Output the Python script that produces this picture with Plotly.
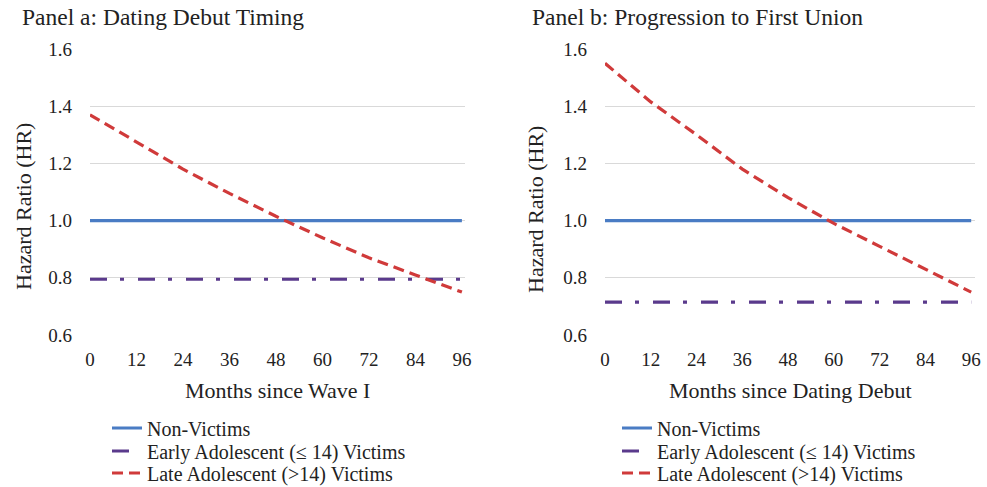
import plotly.graph_objects as go

months = [0, 12, 24, 36, 48, 60, 72, 84, 96]
tick_vals_y = [0.6, 0.8, 1.0, 1.2, 1.4, 1.6]
tick_text_y = ["0.6", "0.8", "1.0", "1.2", "1.4", "1.6"]

# Panel a: Dating Debut Timing
a_non = [1.0, 1.0, 1.0, 1.0, 1.0, 1.0, 1.0, 1.0, 1.0]
a_early = [0.795, 0.795, 0.795, 0.795, 0.795, 0.795, 0.795, 0.795, 0.795]
a_late = [1.37, 1.275, 1.18, 1.095, 1.015, 0.94, 0.87, 0.81, 0.75]

# Panel b: Progression to First Union
b_non = [1.0, 1.0, 1.0, 1.0, 1.0, 1.0, 1.0, 1.0, 1.0]
b_early = [0.715, 0.715, 0.715, 0.715, 0.715, 0.715, 0.715, 0.715, 0.715]
b_late = [1.55, 1.415, 1.30, 1.18, 1.08, 0.99, 0.91, 0.83, 0.75]

names = ["Non-Victims", "Early Adolescent (\u2264 14) Victims", "Late Adolescent (>14) Victims"]
colors = ["#4A7CC4", "#5A3A8C", "#D03A3A"]
dashes = ["solid", "17px,13px,4px,14px", "11px,6px"]

FONT = "Liberation Serif"
TXT = "#222222"
W, H = 987, 487

def px_x(v):
    return v / W

def px_y(v):
    return 1 - v / H

fig = go.Figure()

legend_rows = [428, 451, 473]
panels = [
    dict(series=[a_non, a_early, a_late], xa="x", ya="y", legx=107, legs=["legend", "legend2", "legend3"]),
    dict(series=[b_non, b_early, b_late], xa="x2", ya="y2", legx=617, legs=["legend4", "legend5", "legend6"]),
]
legend_layout = {}
for p in panels:
    for i, (name, vals, col, dsh) in enumerate(zip(names, p["series"], colors, dashes)):
        lg = p["legs"][i]
        fig.add_trace(go.Scatter(
            x=months, y=vals, mode="lines", name=name,
            line=dict(color=col, width=3.2, dash=dsh),
            xaxis=p["xa"], yaxis=p["ya"], legend=lg,
        ))
        legend_layout[lg] = dict(
            x=px_x(p["legx"]), y=px_y(legend_rows[i]), xanchor="left", yanchor="middle",
            font=dict(family=FONT, size=20, color=TXT), bgcolor="rgba(0,0,0,0)",
            itemwidth=30, borderwidth=0,
        )

ydom = [px_y(335), px_y(49)]
common_y = dict(range=[0.6, 1.6], tickvals=tick_vals_y, ticktext=tick_text_y,
                showgrid=True, gridcolor="#D9D9D9", gridwidth=1, zeroline=False, showline=False,
                ticks="", ticklabelstandoff=17, automargin=False,
                tickfont=dict(family=FONT, size=19, color=TXT))
common_x = dict(tickvals=months, showgrid=False, zeroline=False, showline=False, ticks="",
                ticklabelstandoff=11, automargin=False,
                tickfont=dict(family=FONT, size=19, color=TXT))

fig.update_layout(
    template="none",
    width=W, height=H,
    margin=dict(l=0, r=0, t=0, b=0, autoexpand=False),
    paper_bgcolor="white", plot_bgcolor="white",
    font=dict(family=FONT, size=19, color=TXT),
    xaxis=dict(domain=[px_x(90), px_x(465)], range=[0, 96.8], anchor="y", **common_x),
    yaxis=dict(domain=ydom, anchor="x", **common_y),
    xaxis2=dict(domain=[px_x(605), px_x(975)], range=[0, 97.0], anchor="y2", **common_x),
    yaxis2=dict(domain=ydom, anchor="x2", **common_y),
    showlegend=True,
    **legend_layout,
)

annots = [
    dict(text="Panel a: Dating Debut Timing", x=px_x(20), y=px_y(17), xanchor="left", size=23.5),
    dict(text="Panel b: Progression to First Union", x=px_x(530), y=px_y(17), xanchor="left", size=23.5),
    dict(text="Months since Wave I", x=px_x(277), y=px_y(390), xanchor="center", size=22),
    dict(text="Months since Dating Debut", x=px_x(790), y=px_y(390), xanchor="center", size=22),
]
for a in annots:
    fig.add_annotation(text=a["text"], x=a["x"], y=a["y"], xref="paper", yref="paper",
                       xanchor=a["xanchor"], yanchor="middle", showarrow=False,
                       font=dict(family=FONT, size=a["size"], color=TXT))
for xc, yc in [(23, 207), (535, 210)]:
    fig.add_annotation(text="Hazard Ratio (HR)", x=px_x(xc), y=px_y(yc), xref="paper", yref="paper",
                       xanchor="center", yanchor="middle", showarrow=False, textangle=-90,
                       font=dict(family=FONT, size=22, color=TXT))

fig.write_html("out.html", config={"displayModeBar": False},
               post_script="document.body.style.margin='0';")
